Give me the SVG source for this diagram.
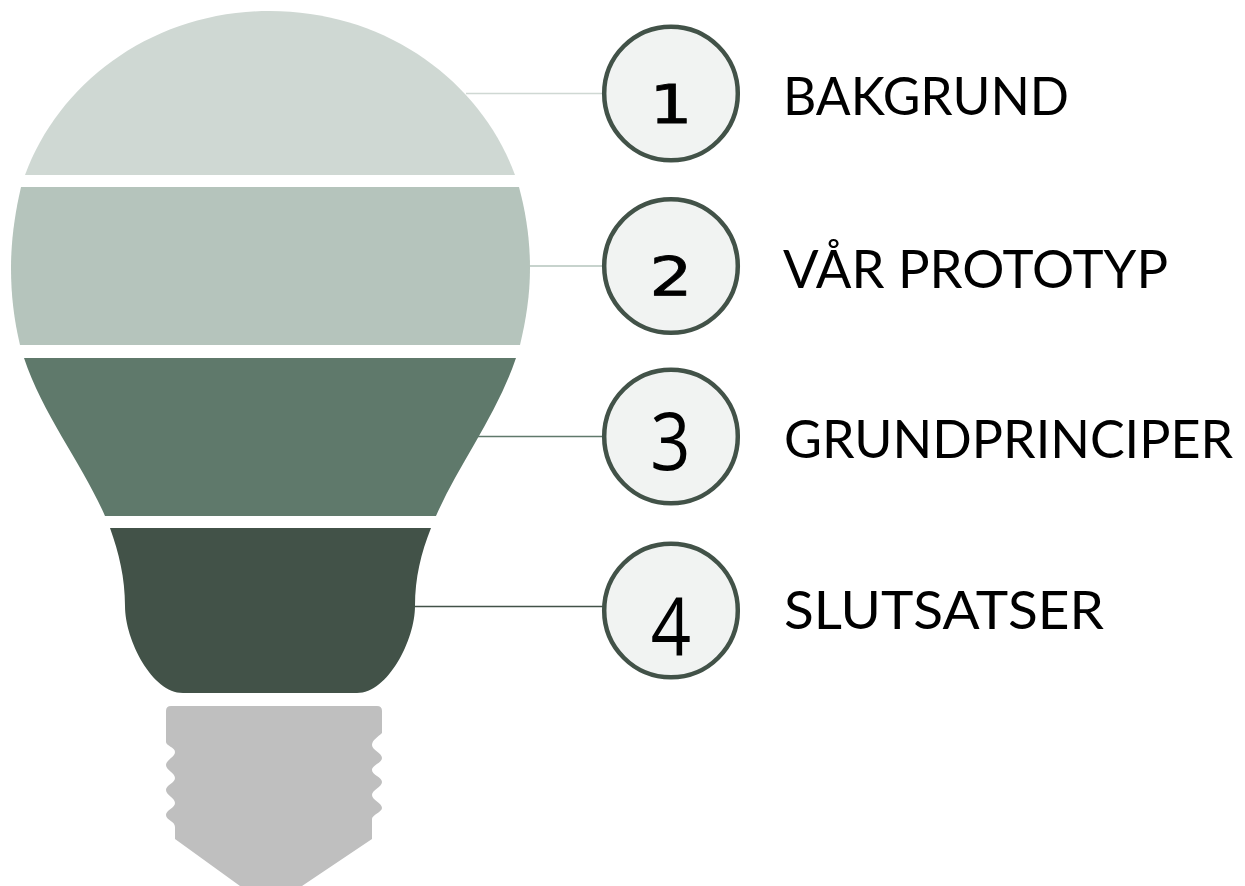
<svg xmlns="http://www.w3.org/2000/svg" width="1245" height="886" viewBox="0 0 1245 886">
<style>
.lab{font-family:"Lato","Open Sans","Liberation Sans",sans-serif;font-size:52px;fill:#000}
.num{font-family:"DejaVu Sans","Liberation Sans",sans-serif;font-size:54px;fill:#000;stroke:#000;stroke-width:.8px;text-anchor:middle}
.tall{font-family:"Open Sans","Liberation Sans",sans-serif;font-size:80px;fill:#000;text-anchor:middle}
.c{fill:#f1f3f2;stroke:#425248;stroke-width:4.500}
.l{stroke-width:1.500;fill:none}
</style>
<rect width="1245" height="886" fill="#fff"/>
<g id="connectors">
<line class="l" x1="466" y1="93.500" x2="604" y2="93.500" stroke="#cfd8d3"/>
<line class="l" x1="528" y1="266" x2="604" y2="266" stroke="#b5c4bc"/>
<line class="l" x1="477" y1="436.500" x2="604" y2="436.500" stroke="#5f796b"/>
<line class="l" x1="414" y1="606.500" x2="604" y2="606.500" stroke="#425248"/>
</g>
<g id="bulb-1"><path d="M25 175C60 80 155 11 270 11C385 11 480 80 515 175Z" fill="#cfd8d3"/></g>
<g id="bulb-2"><path d="M21 187L519 187C526 213 530 240 530 268C530 295 526 320 520 345L20 345C14 320 11 295 11 268C11 240 15 213 21 187Z" fill="#b5c4bc"/></g>
<g id="bulb-3"><path d="M24 358L516 358C497 415 458 465 436 516L105 516C83 465 43 415 24 358Z" fill="#5f796b"/></g>
<g id="bulb-4"><path d="M110 528L431 528C421 553 415 578 415 606C415 640 388 693 357 693L183 693C152 693 125 640 125 606C125 578 119 553 110 528Z" fill="#425248"/></g>
<g id="bulb-base"><path d="M171 706L377 706Q382 706 382 711L382 733C378 737 372 740 372 745C372 750 382 753 382 758C382 763 372 765 372 770C372 775 382 777 382 782C382 787 372 790 372 795C372 800 382 803 382 808C382 812 372 815 372 819L372 839L302 886L240 886L175 839L175 827C175 821 166 820 166 815C166 810 175 808 175 803C175 798 166 795 166 790C166 785 175 783 175 778C175 773 166 770 166 765C166 760 175 757 175 752C175 747 166 746 166 742L166 711Q166 706 171 706Z" fill="#bfbfbf"/></g>
<g id="node-1"><circle class="c" cx="671" cy="93.500" r="66.800"/><text class="num" transform="translate(671 122.500) scale(1.25 1)">1</text><text class="lab" x="783" y="115" textLength="286" lengthAdjust="spacingAndGlyphs">BAKGRUND</text></g>
<g id="node-2"><circle class="c" cx="671" cy="266" r="66.800"/><text class="num" transform="translate(671 295) scale(1.25 1)">2</text><text class="lab" x="783" y="288" textLength="385" lengthAdjust="spacingAndGlyphs">VÅR PROTOTYP</text></g>
<g id="node-3"><circle class="c" cx="671" cy="436.500" r="66.800"/><text class="tall" transform="translate(670.500 469.500) scale(.88 1)">3</text><text class="lab" x="784" y="458" textLength="449" lengthAdjust="spacingAndGlyphs">GRUNDPRINCIPER</text></g>
<g id="node-4"><circle class="c" cx="671" cy="610.500" r="66.800"/><text class="tall" transform="translate(671 655) scale(.88 1)">4</text><text class="lab" x="784" y="629" textLength="320" lengthAdjust="spacingAndGlyphs">SLUTSATSER</text></g>
</svg>
